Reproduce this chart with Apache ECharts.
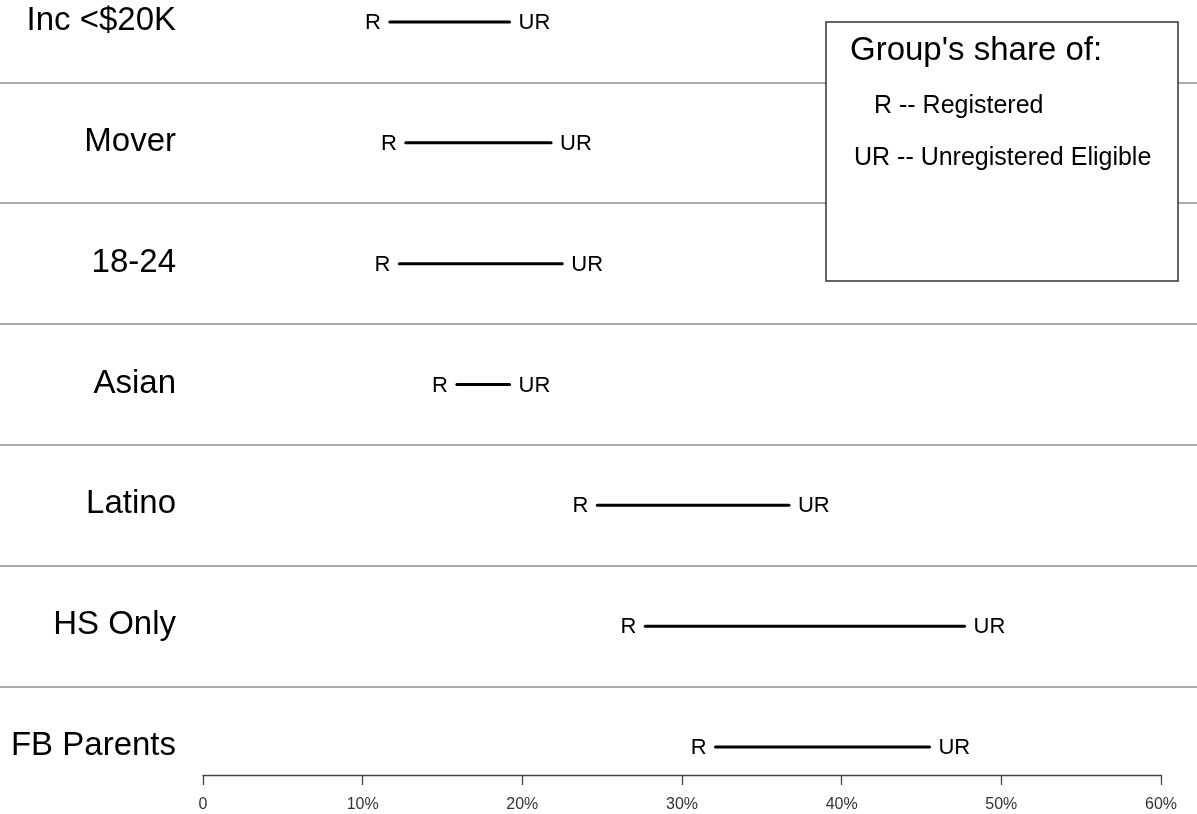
<!DOCTYPE html>
<html>
<head>
<meta charset="utf-8">
<script src="https://cdn.jsdelivr.net/npm/echarts@6/dist/echarts.min.js"></script>
<style>
html,body{margin:0;padding:0;background:#fff;}
#chart{width:1197px;height:814px;}
</style>
</head>
<body>
<div id="chart"></div>
<script>
// Categories from bottom (row 0) to top (row 6)
var categories = ['FB Parents', 'HS Only', 'Latino', 'Asian', '18-24', 'Mover', 'Inc <$20K'];
// Group's share of registered (R) and unregistered eligible (UR), percent
var registered   = [32.1, 27.7, 24.7, 15.9, 12.3, 12.7, 11.7];
var unregistered = [45.5, 47.7, 36.7, 19.2, 22.5, 21.8, 19.2];
var xTicks = [0, 10, 20, 30, 40, 50, 60];
var legendTitle = "Group's share of:";
var legendLines = ['R -- Registered', 'UR -- Unregistered Eligible'];

var FONT = "'Liberation Sans', Arial, sans-serif";
var chart = echarts.init(document.getElementById('chart'), null, {renderer: 'canvas'});

var segData = categories.map(function (c, i) { return [registered[i], unregistered[i], i]; });
var separators = [];
for (var k = 0; k < categories.length - 1; k++) separators.push({yAxis: k + 0.5});

var option = {
  backgroundColor: '#fff',
  animation: false,
  grid: [
    {left: 203, right: 36, top: 0, bottom: 39},
    {left: 0, right: 0, top: 0, bottom: 39}
  ],
  xAxis: [
    {
      type: 'value', gridIndex: 0, min: xTicks[0], max: xTicks[xTicks.length - 1], interval: 10,
      position: 'bottom',
      axisLine: {show: true, onZero: false, lineStyle: {color: '#444', width: 1.3}},
      axisTick: {show: true, length: 10, lineStyle: {color: '#444', width: 1.3}},
      splitLine: {show: false},
      axisLabel: {
        margin: 22, fontSize: 16, color: '#333', fontFamily: FONT,
        formatter: function (v) { return v === 0 ? '0' : v + '%'; }
      }
    },
    {type: 'value', gridIndex: 1, min: 0, max: 1, show: false}
  ],
  yAxis: [
    {type: 'value', gridIndex: 0, min: -0.232, max: 6.182, show: false},
    {type: 'value', gridIndex: 1, min: -0.232, max: 6.182, show: false}
  ],
  series: [
    {
      type: 'line', xAxisIndex: 1, yAxisIndex: 1, data: [], silent: true,
      markLine: {
        silent: true, symbol: ['none', 'none'],
        label: {show: false},
        lineStyle: {color: '#8c8c8c', width: 1.5, type: 'solid'},
        data: separators
      }
    },
    {
      type: 'custom', xAxisIndex: 0, yAxisIndex: 0, clip: false,
      data: segData,
      renderItem: function (params, api) {
        var row = api.value(2);
        var p1 = api.coord([api.value(0), row]);
        var p2 = api.coord([api.value(1), row]);
        var p0 = api.coord([0, row]);
        return {
          type: 'group',
          children: [
            {type: 'line', shape: {x1: p1[0], y1: p1[1], x2: p2[0], y2: p2[1]},
             style: {stroke: '#000', lineWidth: 3, lineCap: 'round'}},
            {type: 'text', style: {text: 'R', x: p1[0] - 9, y: p1[1] + 1, align: 'right', verticalAlign: 'middle',
              fontSize: 22, fontFamily: FONT, fill: '#000'}},
            {type: 'text', style: {text: 'UR', x: p2[0] + 9, y: p2[1] + 1, align: 'left', verticalAlign: 'middle',
              fontSize: 22, fontFamily: FONT, fill: '#000'}},
            {type: 'text', style: {text: categories[params.dataIndex], x: p0[0] - 27, y: p0[1] - 1,
              align: 'right', verticalAlign: 'middle', fontSize: 33, fontFamily: FONT, fill: '#000'}}
          ]
        };
      }
    }
  ],
  graphic: [
    {type: 'rect', z: 100, shape: {x: 826, y: 22, width: 352, height: 259},
     style: {fill: '#fff', stroke: '#333', lineWidth: 1.5}},
    {type: 'text', z: 101, style: {text: legendTitle, x: 850, y: 51, verticalAlign: 'middle',
      fontSize: 33, fontFamily: FONT, fill: '#000'}},
    {type: 'text', z: 101, style: {text: legendLines[0], x: 874, y: 106, verticalAlign: 'middle',
      fontSize: 25, fontFamily: FONT, fill: '#000'}},
    {type: 'text', z: 101, style: {text: legendLines[1], x: 854, y: 158, verticalAlign: 'middle',
      fontSize: 25, fontFamily: FONT, fill: '#000'}}
  ]
};
chart.setOption(option);
</script>
</body>
</html>
